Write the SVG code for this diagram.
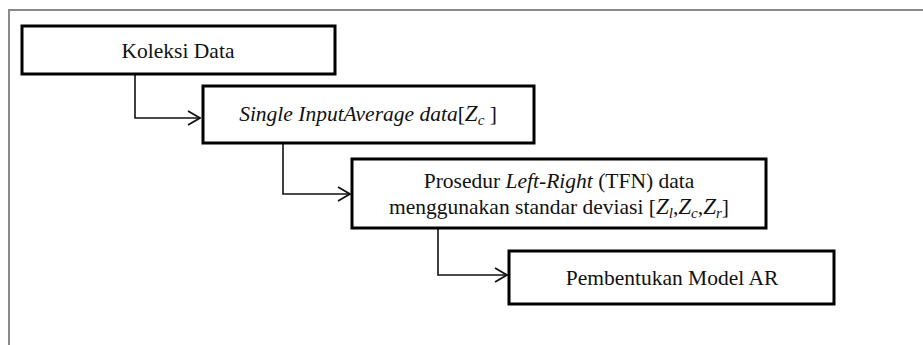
<svg xmlns="http://www.w3.org/2000/svg" width="923" height="345" viewBox="0 0 923 345">
<style>
.box{fill:#fff;stroke:#000;stroke-width:3}
.t{font-family:"Liberation Serif","Times New Roman",serif;font-size:21.5px;fill:#111}
.i{font-style:italic}
.z{font-style:italic;font-size:23px}
.sub{font-size:15px;font-style:italic}
.c{fill:none;stroke:#111;stroke-width:1.6}
.frame{fill:none;stroke:#8a8a8a;stroke-width:2}
</style>
<defs>
<marker id="arr" markerWidth="16" markerHeight="18" refX="13" refY="8" orient="auto" markerUnits="userSpaceOnUse">
<path d="M1,1 L13,8 L1,15" fill="none" stroke="#111" stroke-width="1.8"/>
</marker>
</defs>
<rect width="923" height="345" fill="#fff"/>
<path class="frame" d="M9,345 V10 H923"/>
<g id="connectors">
<path class="c" d="M135,74 V118 H200" marker-end="url(#arr)"/>
<path class="c" d="M283,143 V194 H350" marker-end="url(#arr)"/>
<path class="c" d="M438,228 V275 H507" marker-end="url(#arr)"/>
</g>
<g id="n1">
<rect class="box" x="22" y="26" width="313" height="48"/>
<text class="t" x="178" y="58" text-anchor="middle">Koleksi Data</text>
</g>
<g id="n2">
<rect class="box" x="203" y="86" width="331" height="57"/>
<text class="t" x="368" y="121" text-anchor="middle"><tspan class="i">Single InputAverage data</tspan>[<tspan class="z">Z</tspan><tspan class="sub" dy="4">c</tspan><tspan dy="-4"> ]</tspan></text>
</g>
<g id="n3">
<rect class="box" x="352" y="159" width="414" height="69"/>
<text class="t" x="559" y="188" text-anchor="middle">Prosedur <tspan class="i">Left-Right</tspan> (TFN) data</text>
<text class="t" x="559" y="214" text-anchor="middle">menggunakan standar deviasi [<tspan class="z">Z</tspan><tspan class="sub" dy="4">l</tspan><tspan dy="-4">,</tspan><tspan class="z">Z</tspan><tspan class="sub" dy="4">c</tspan><tspan dy="-4">,</tspan><tspan class="z">Z</tspan><tspan class="sub" dy="4">r</tspan><tspan dy="-4">]</tspan></text>
</g>
<g id="n4">
<rect class="box" x="509" y="251" width="325" height="53"/>
<text class="t" x="672" y="285" text-anchor="middle">Pembentukan Model AR</text>
</g>
</svg>
